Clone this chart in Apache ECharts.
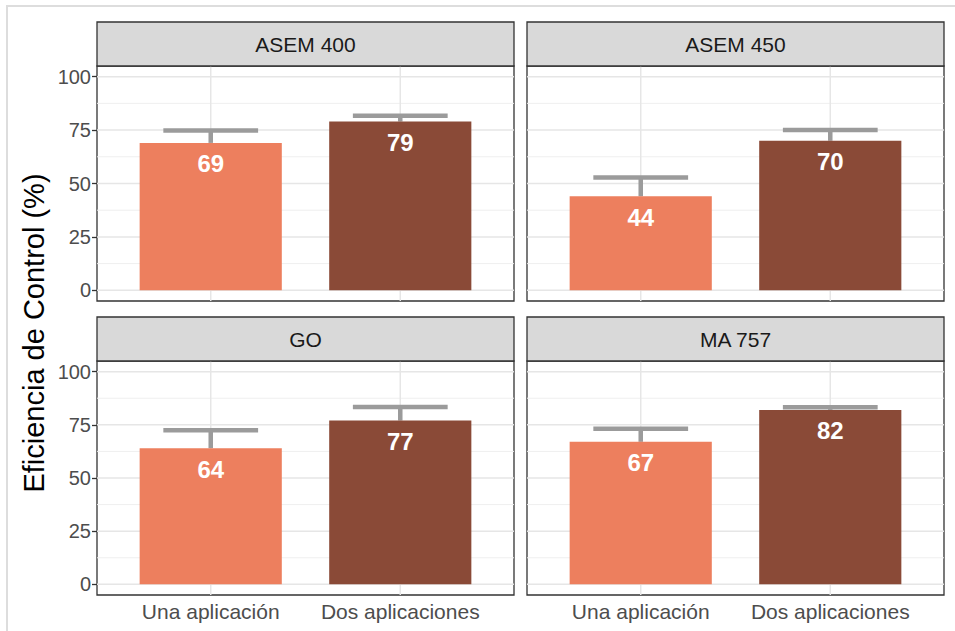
<!DOCTYPE html>
<html>
<head>
<meta charset="utf-8">
<script src="https://cdn.jsdelivr.net/npm/echarts@6/dist/echarts.min.js"></script>
<style>html,body{margin:0;padding:0;background:#fff;}#c{width:955px;height:631px;}</style>
</head>
<body>
<div id="c"></div>
<script>
// ---- data ----
const panels = ['ASEM 400', 'ASEM 450', 'GO', 'MA 757'];
const categories = ['Una aplicación', 'Dos aplicaciones'];
const unaValues = [69, 44, 64, 67];
const dosValues = [79, 70, 77, 82];
const unaUpper = [74.8, 52.8, 72.5, 73.2];
const dosUpper = [81.7, 75.1, 83.4, 83.3];
const yTicks = [0, 25, 50, 75, 100];
const yMinorTicks = [12.5, 37.5, 62.5, 87.5];
const xTicks = [1, 2];
const yTitle = 'Eficiencia de Control (%)';

// ---- style ----
const FONT = "'Liberation Sans', Arial, sans-serif";
const colors = ['#ED7F5E', '#8A4A37'];
const errColor = '#9b9b9b';
const layout = [
  {left: 97, top: 66, width: 417, height: 235},
  {left: 527, top: 66, width: 417, height: 235},
  {left: 97, top: 361, width: 417, height: 234},
  {left: 527, top: 361, width: 417, height: 234}
];
const stripH = 44;

const chart = echarts.init(document.getElementById('c'), null, {renderer: 'svg'});

const grids = [], xAxes = [], yAxes = [], series = [], graphics = [];

graphics.push({type: 'rect', shape: {x: 7, y: 6, width: 1000, height: 700},
  style: {fill: 'none', stroke: '#dddddd', lineWidth: 2}, z: 0});

panels.forEach((name, i) => {
  const L = layout[i];
  const isLeft = i % 2 === 0;
  const isBottom = i >= 2;
  grids.push({left: L.left, top: L.top, width: L.width, height: L.height,
    show: true, borderColor: '#333333', borderWidth: 1.3, backgroundColor: '#ffffff', z: 1});
  xAxes.push({
    type: 'value', gridIndex: i, min: 0.4, max: 2.6,
    axisLine: {show: false}, splitLine: {show: false},
    axisTick: {show: isBottom, customValues: xTicks, length: 5, lineStyle: {color: '#333', width: 1.3}},
    axisLabel: {show: isBottom, customValues: xTicks, margin: 6, fontSize: 21, color: '#4d4d4d', fontFamily: FONT,
      formatter: v => categories[Math.round(v) - 1] || ''}
  });
  yAxes.push({
    type: 'value', gridIndex: i, min: -5, max: 105,
    axisLine: {show: false}, splitLine: {show: false},
    axisTick: {show: isLeft, customValues: yTicks, length: 5, lineStyle: {color: '#333', width: 1.3}},
    axisLabel: {show: isLeft, customValues: yTicks, margin: 6, fontSize: 20, color: '#4d4d4d', fontFamily: FONT}
  });
  // grid lines
  const hData = yTicks.map(v => [1, v, 1]).concat(yMinorTicks.map(v => [1, v, 0]));
  series.push({
    type: 'custom', xAxisIndex: i, yAxisIndex: i, z: 1, silent: true,
    data: hData,
    renderItem: (params, api) => {
      const cs = params.coordSys;
      const y = api.coord([1, api.value(1)])[1];
      const major = api.value(2) === 1;
      return {type: 'line', shape: {x1: cs.x, y1: y, x2: cs.x + cs.width, y2: y},
        style: {stroke: major ? '#e6e6e6' : '#efefef', lineWidth: major ? 1.5 : 1}};
    }
  });
  series.push({
    type: 'custom', xAxisIndex: i, yAxisIndex: i, z: 1, silent: true,
    data: xTicks.map(v => [v, 0]),
    renderItem: (params, api) => {
      const cs = params.coordSys;
      const x = api.coord([api.value(0), 0])[0];
      return {type: 'line', shape: {x1: x, y1: cs.y, x2: x, y2: cs.y + cs.height},
        style: {stroke: '#e6e6e6', lineWidth: 1.5}};
    }
  });
  // bars + error bars + labels
  series.push({
    type: 'custom', xAxisIndex: i, yAxisIndex: i, z: 3,
    data: [[1, unaValues[i], unaUpper[i]], [2, dosValues[i], dosUpper[i]]],
    renderItem: (params, api) => {
      const x = api.value(0), v = api.value(1), up = api.value(2);
      const p0 = api.coord([x - 0.375, v]);
      const p1 = api.coord([x + 0.375, 0]);
      const c = api.coord([x, v]);
      const cu = api.coord([x, up]);
      const e0 = api.coord([x - 0.25, up]);
      const e1 = api.coord([x + 0.25, up]);
      return {type: 'group', children: [
        {type: 'line', shape: {x1: c[0], y1: c[1], x2: cu[0], y2: cu[1]},
          style: {stroke: errColor, lineWidth: 4.5}},
        {type: 'line', shape: {x1: e0[0], y1: e0[1], x2: e1[0], y2: e1[1]},
          style: {stroke: errColor, lineWidth: 4.5}},
        {type: 'rect', shape: {x: p0[0], y: p0[1], width: p1[0] - p0[0], height: p1[1] - p0[1]},
          style: {fill: colors[params.dataIndex]}},
        {type: 'text', x: c[0], y: c[1] + 21,
          style: {text: String(v), fill: '#ffffff', fontSize: 24, fontWeight: 'bold', fontFamily: FONT,
            align: 'center', verticalAlign: 'middle'}}
      ]};
    }
  });
  // strip
  graphics.push({type: 'rect', z: 5,
    shape: {x: L.left, y: L.top - stripH, width: L.width, height: stripH},
    style: {fill: '#d9d9d9', stroke: '#333333', lineWidth: 1.3}});
  graphics.push({type: 'text', z: 6, x: L.left + L.width / 2, y: L.top - stripH / 2,
    style: {text: name, fontSize: 21, fill: '#1a1a1a', fontFamily: FONT, align: 'center', verticalAlign: 'middle'}});
});

graphics.push({type: 'text', z: 6, x: 34, y: 333, rotation: Math.PI / 2,
  style: {text: yTitle, fontSize: 29, fill: '#000000', fontFamily: FONT, align: 'center', verticalAlign: 'middle'}});

chart.setOption({
  animation: false,
  backgroundColor: '#ffffff',
  grid: grids, xAxis: xAxes, yAxis: yAxes, series: series, graphic: graphics
});
</script>
</body>
</html>
